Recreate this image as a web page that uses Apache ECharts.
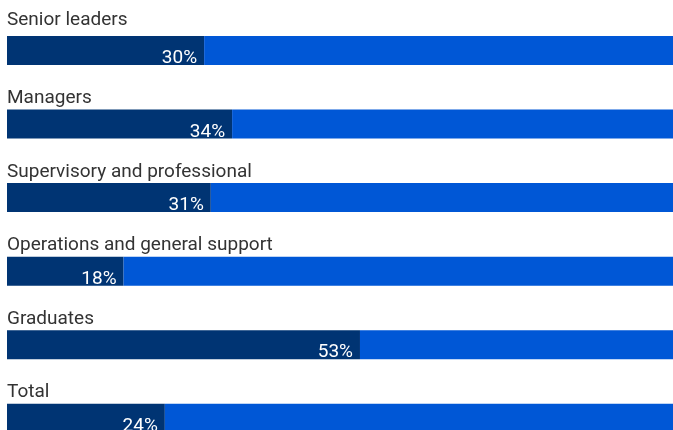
<!DOCTYPE html>
<html>
<head>
<meta charset="utf-8">
<script src="https://cdn.jsdelivr.net/npm/echarts@6/dist/echarts.min.js"></script>
<style>html,body{margin:0;padding:0;background:#fff;overflow:hidden;}#c{width:673px;height:455px;}</style>
</head>
<body>
<div id="c"></div>
<script>
var categories = ['Senior leaders', 'Managers', 'Supervisory and professional', 'Operations and general support', 'Graduates', 'Total'];
var shareValues = [29.6, 33.8, 30.6, 17.5, 53.0, 23.7];
var remainderValues = shareValues.map(function (v) { return +(100 - v).toFixed(1); });

var chart = echarts.init(document.getElementById('c'));
chart.setOption({
  animation: false,
  grid: { left: 7, right: 0, top: 13.7, bottom: 0, containLabel: false },
  xAxis: { type: 'value', min: 0, max: 100, show: false },
  yAxis: {
    type: 'category', data: categories, inverse: true,
    axisLine: { show: false }, axisTick: { show: false }, splitLine: { show: false },
    axisLabel: {
      inside: true, margin: 0, verticalAlign: 'bottom', align: 'left',
      fontSize: 19, color: '#333333', fontFamily: 'Roboto',
      formatter: function (v, i) { return i === 0 ? '{first|' + v + '}' : '{rest|' + v + '}'; },
      rich: {
        first: { fontSize: 19, color: '#333333', fontFamily: 'Roboto', padding: [0, 0, 21, 0] },
        rest: { fontSize: 19, color: '#333333', fontFamily: 'Roboto', padding: [0, 0, 16, 0] }
      }
    }
  },
  series: [
    {
      type: 'bar', stack: 'a', data: shareValues, barWidth: 29,
      itemStyle: { color: '#003473' },
      label: {
        show: true, position: ['100%', '100%'], align: 'right', verticalAlign: 'bottom',
        offset: [-7, 3], color: '#ffffff', fontSize: 19, fontFamily: 'Roboto',
        formatter: function (p) { return Math.round(p.value) + '%'; }
      }
    },
    {
      type: 'bar', stack: 'a', data: remainderValues, barWidth: 29,
      itemStyle: { color: '#0057d6' }
    }
  ]
});
</script>
</body>
</html>
